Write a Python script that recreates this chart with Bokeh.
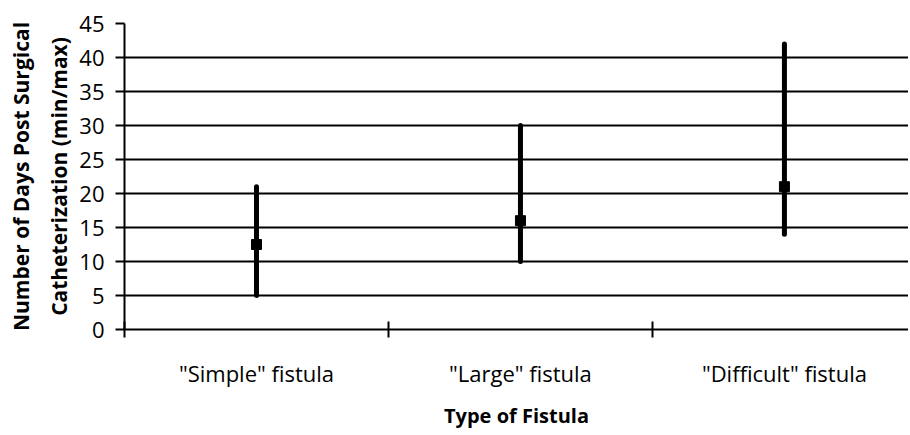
from bokeh.plotting import figure
from bokeh.models import (ColumnDataSource, FixedTicker, LinearAxis, Range1d, Grid)
from bokeh.embed import file_html
from bokeh.resources import INLINE

categories = ['"Simple" fistula', '"Large" fistula', '"Difficult" fistula']
min_days = [5, 10, 14]
max_days = [21, 30, 42]
mid_days = [12.5, 16, 21]
y_ticks = [0, 5, 10, 15, 20, 25, 30, 35, 40, 45]

FONT = "Open Sans"
xpos = [i + 0.5 for i in range(len(categories))]
bounds = [float(i) for i in range(len(categories) + 1)]
src = ColumnDataSource(dict(x=xpos, lo=min_days, hi=max_days, mid=mid_days))

p = figure(width=908, height=433, output_backend="svg", toolbar_location=None,
           x_range=Range1d(0, 2.97), y_range=Range1d(0, 45),
           min_border_left=124, min_border_right=0, min_border_top=23,
           min_border_bottom=104, x_axis_location=None, y_axis_location=None)
p.outline_line_color = None
p.background_fill_color = "white"
p.xgrid.visible = False
p.ygrid.visible = False

# grids
g = Grid(dimension=1, ticker=FixedTicker(ticks=y_ticks[1:-1]),
         grid_line_color="black", grid_line_width=2)
p.add_layout(g)
gtop = Grid(dimension=1, ticker=FixedTicker(ticks=y_ticks[-1:]),
            grid_line_color="#c8c8c8", grid_line_width=2)
p.add_layout(gtop)

# y axis
ya = LinearAxis(ticker=FixedTicker(ticks=y_ticks))
ya.axis_line_width = 2
ya.axis_line_color = "black"
ya.major_tick_line_width = 2
ya.major_tick_out = 9
ya.major_tick_in = 0
ya.minor_tick_line_color = None
ya.major_label_text_font = FONT
ya.major_label_text_font_size = "22px"
ya.major_label_text_color = "black"
ya.major_label_standoff = 11
ya.axis_label = "Number of Days Post Surgical\nCatheterization (min/max)"
ya.axis_label_text_font = FONT
ya.axis_label_text_font_style = "bold"
ya.axis_label_text_font_size = "21px"
ya.axis_label_text_color = "black"
ya.axis_label_text_line_height = 1.38
ya.axis_label_standoff = 3
p.add_layout(ya, "left")

# x axis: category labels at centres, boundary tick marks as minor ticks
xa = LinearAxis(ticker=FixedTicker(ticks=xpos, minor_ticks=bounds),
                major_label_overrides={x: c for x, c in zip(xpos, categories)})
xa.axis_line_width = 2
xa.axis_line_color = "black"
xa.major_tick_line_color = None
xa.major_tick_out = 8
xa.major_tick_in = 0
xa.minor_tick_line_color = "black"
xa.minor_tick_line_width = 2
xa.minor_tick_out = 8
xa.minor_tick_in = 8
xa.major_label_text_font = FONT
xa.major_label_text_font_size = "22px"
xa.major_label_text_color = "black"
xa.major_label_standoff = 20
xa.axis_label = "Type of Fistula"
xa.axis_label_text_font = FONT
xa.axis_label_text_font_style = "bold"
xa.axis_label_text_font_size = "20px"
xa.axis_label_text_color = "black"
xa.axis_label_standoff = 11
p.add_layout(xa, "below")

p.segment(x0="x", y0="lo", x1="x", y1="hi", source=src, line_color="black",
          line_width=5, line_cap="round")
p.scatter(x="x", y="mid", source=src, marker="square", size=10,
          fill_color="black", line_color="black")

open("out.html", "w").write(file_html(p, INLINE))
